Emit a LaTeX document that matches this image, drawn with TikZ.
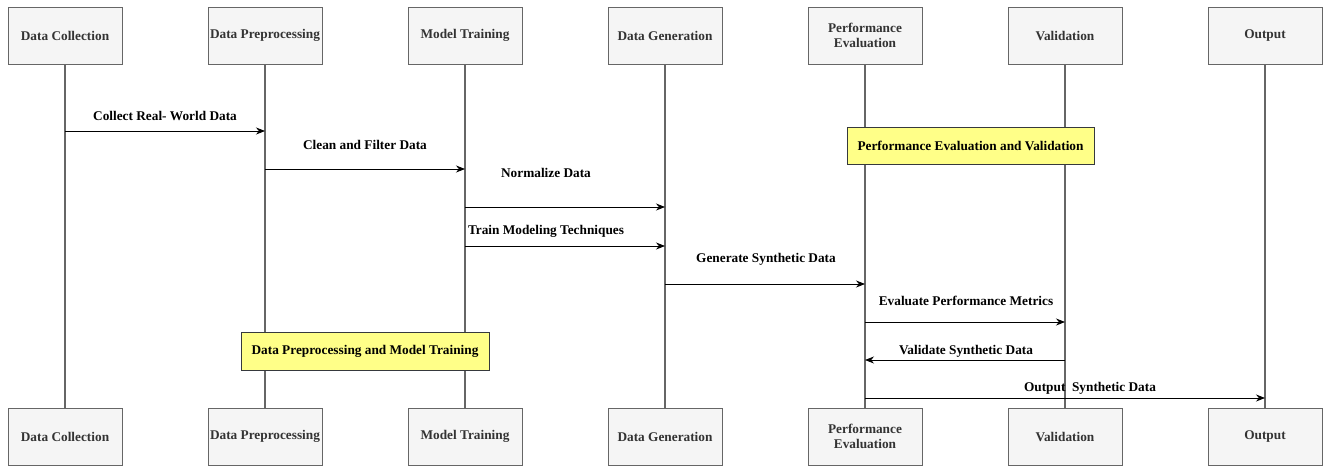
\documentclass[tikz,border=0pt]{standalone}
\usepackage{fontspec}
\setmainfont{Liberation Serif}
\usetikzlibrary{arrows.meta,positioning}

\definecolor{boxfill}{HTML}{F5F5F5}
\definecolor{boxline}{HTML}{666666}
\definecolor{boxtext}{HTML}{333333}
\definecolor{notefill}{HTML}{FFFF88}
\definecolor{noteline}{HTML}{36393D}

\tikzset{
  actor/.style={draw=boxline, fill=boxfill, text=boxtext, line width=0.9pt, minimum width=114pt,
    minimum height=57pt, inner sep=0pt, align=center, font=\fontsize{13.3}{15}\selectfont\bfseries},
  lifeline/.style={draw=boxline, line width=1.3pt},
  msg/.style={-{Stealth[length=9pt,width=7pt]}, line width=0.8pt},
  lbl/.style={inner sep=0pt, font=\fontsize{13.3}{15}\selectfont\bfseries},
  note/.style={draw=noteline, fill=notefill, line width=0.8pt, inner sep=0pt,
    font=\fontsize{13.3}{15}\selectfont\bfseries}
}

\begin{document}
\begin{tikzpicture}[x=1pt, y=-1pt]
  \useasboundingbox (0,0) rectangle (1335,468);

  % lifeline heads and feet
  \foreach \name/\xx/\txt in {dc/65/Data Collection, dp/265/Data Preprocessing,
      mt/465/Model Training, dg/665/Data Generation,
      pe/865/Performance\\Evaluation, va/1065/Validation, ou/1265/Output} {
    \node[actor] (\name T) at (\xx,35.5) {\txt};
    \node[actor] (\name B) at (\xx,436.5) {\txt};
    \draw[lifeline] (\name T) -- (\name B);
  }

  % message heights
  \coordinate (y1) at (0,131);
  \coordinate (y2) at (0,169);
  \coordinate (y3) at (0,207);
  \coordinate (y4) at (0,246);
  \coordinate (y5) at (0,284);
  \coordinate (y6) at (0,322);
  \coordinate (y7) at (0,360);
  \coordinate (y8) at (0,398);

  \draw[msg] (dcT |- y1) -- (dpT |- y1);
  \draw[msg] (dpT |- y2) -- (mtT |- y2);
  \draw[msg] (mtT |- y3) -- (dgT |- y3);
  \draw[msg] (mtT |- y4) -- (dgT |- y4);
  \draw[msg] (dgT |- y5) -- (peT |- y5);
  \draw[msg] (peT |- y6) -- (vaT |- y6);
  \draw[msg] (vaT |- y7) -- (peT |- y7);
  \draw[msg] (peT |- y8) -- (ouT |- y8);

  % message labels
  \node[lbl] (l1) at (165,116) {Collect Real- World Data};
  \node[lbl] (l2) at (365,145) {Clean and Filter Data};
  \node[lbl] (l3) at (546,173) {Normalize Data};
  \node[lbl] (l4) at (546,231) {Train Modeling Techniques};
  \node[lbl] (l5) at (766,259) {Generate Synthetic Data};
  \node[lbl] (l6) at (966,301) {Evaluate Performance Metrics};
  \node[lbl] (l7) at (966,351) {Validate Synthetic Data};
  \node[lbl] (l8) at (1090,388) {Output\ \ Synthetic Data};

  % notes
  \node[note, minimum width=248pt, minimum height=38pt] (n1) at (365,351)
    {Data Preprocessing and Model Training};
  \node[note, minimum width=247pt, minimum height=37pt] (n2) at (970.5,145.5)
    {Performance Evaluation and Validation};
\end{tikzpicture}
\end{document}
